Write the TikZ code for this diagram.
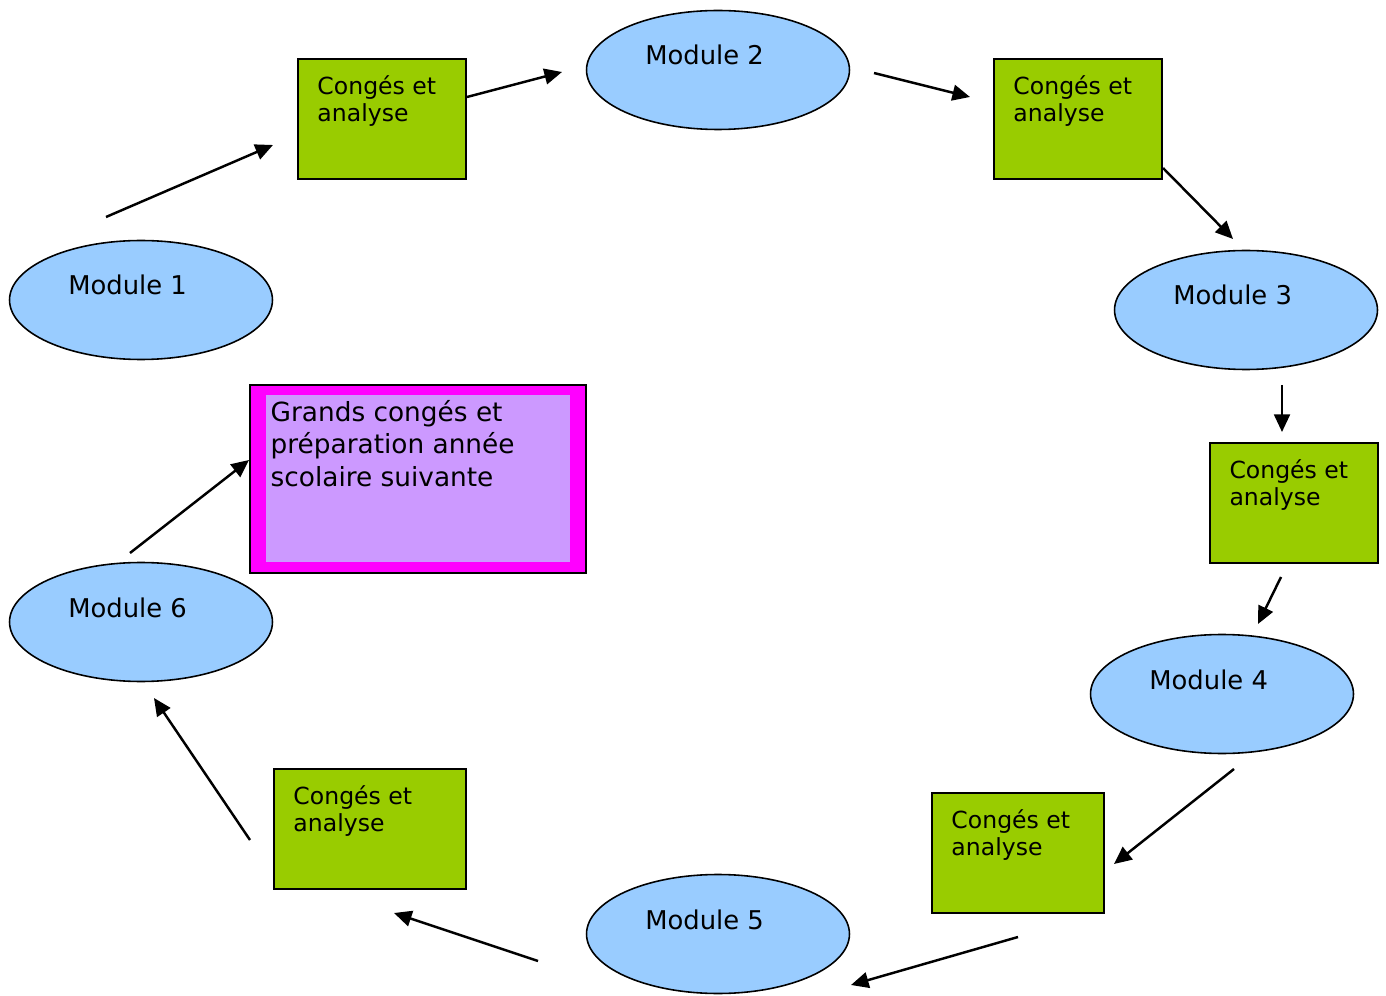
\documentclass[tikz,border=0pt]{standalone}
\usepackage{fontspec}
\setmainfont{DejaVu Sans}
\usetikzlibrary{arrows.meta,positioning,shapes.geometric}
\definecolor{modblue}{HTML}{99CCFF}
\definecolor{breakgreen}{HTML}{99CC00}
\definecolor{holpink}{HTML}{FF00FF}
\definecolor{holviolet}{HTML}{CC99FF}

\begin{document}
\begin{tikzpicture}[x=0.02cm, y=-0.02cm,
    module/.style={ellipse, draw, line width=0.9pt, fill=modblue,
      minimum width=5.26cm, minimum height=2.38cm, inner sep=0pt},
    modtext/.style={anchor=base west, inner sep=0pt,
      font=\fontsize{14.7}{17}\selectfont},
    breakbox/.style={rectangle, draw, line width=1pt, fill=breakgreen,
      minimum width=3.36cm, minimum height=2.4cm, inner sep=0pt},
    breaktext/.style={anchor=north west, inner sep=0pt, align=left,
      font=\fontsize{13.4}{15.7}\selectfont},
    holiday/.style={rectangle, draw=black, line width=0.8pt, fill=holpink,
      minimum width=6.72cm, minimum height=3.76cm, inner sep=0pt,
      path picture={\fill[holviolet]
        ([xshift=0.32cm,yshift=-0.2cm]path picture bounding box.north west) rectangle
        ([xshift=-0.32cm,yshift=0.22cm]path picture bounding box.south east);}},
    holtext/.style={anchor=north west, inner sep=0pt, align=left,
      font=\fontsize{15}{18.5}\selectfont}]
  \useasboundingbox (0,0) rectangle (1386,996);

  % modules
  \node (m1) [module] at (141,300) {};
  \node (m2) [module] at (718,70) {};
  \node (m3) [module] at (1246,310) {};
  \node (m4) [module] at (1222,694) {};
  \node (m5) [module] at (718,934) {};
  \node (m6) [module] at (141,622) {};
  \node (m1t) [modtext] at ([xshift=-1.46cm,yshift=0.1cm]m1.center) {Module 1};
  \node (m2t) [modtext] at ([xshift=-1.46cm,yshift=0.1cm]m2.center) {Module 2};
  \node (m3t) [modtext] at ([xshift=-1.46cm,yshift=0.1cm]m3.center) {Module 3};
  \node (m4t) [modtext] at ([xshift=-1.46cm,yshift=0.1cm]m4.center) {Module 4};
  \node (m5t) [modtext] at ([xshift=-1.46cm,yshift=0.1cm]m5.center) {Module 5};
  \node (m6t) [modtext] at ([xshift=-1.46cm,yshift=0.1cm]m6.center) {Module 6};

  % breaks
  \node (g1) [breakbox] at (382,119) {};
  \node (g2) [breakbox] at (1078,119) {};
  \node (g3) [breakbox] at (1294,503) {};
  \node (g4) [breakbox, minimum width=3.44cm] at (1018,853) {};
  \node (g5) [breakbox, minimum width=3.84cm] at (370,829) {};
  \foreach \g in {g1,g2,g3,g4,g5}
    \node (\g t) [breaktext, below right=0.34cm and 0.4cm of \g.north west]
      {Congés et\\analyse};

  % summer
  \node (big) [holiday] at (418,479) {};
  \node (bigt) [holtext, below right=0.31cm and 0.42cm of big.north west]
    {Grands congés et\\préparation année\\scolaire suivante};

  \coordinate (m1out) at (106,217);   \coordinate (g1in) at (273,145);
  \coordinate (g1out) at (467,97);    \coordinate (m2in) at (562,72);
  \coordinate (m2out) at (874,73);    \coordinate (g2in) at (970,97);
  \coordinate (g2out) at (1163,168);  \coordinate (m3in) at (1233,239);
  \coordinate (m3out) at (1282,385);  \coordinate (g3in) at (1282,432);
  \coordinate (g3out) at (1281,577);  \coordinate (m4in) at (1258,624);
  \coordinate (m4out) at (1234,769);  \coordinate (g4in) at (1114,864);
  \coordinate (g4out) at (1018,937);  \coordinate (m5in) at (851,985);
  \coordinate (m5out) at (538,961);   \coordinate (g5in) at (394,913);
  \coordinate (g5out) at (250,840);   \coordinate (m6in) at (154,698);
  \coordinate (m6out) at (130,553);   \coordinate (bigin) at (249,460);

  \begin{scope}[every edge/.style={draw, line width=1.4pt,
      -{Triangle[length=10pt,width=9pt]}}]
    \path (m1out) edge (g1in);
    \path (g1out) edge (m2in);
    \path (m2out) edge (g2in);
    \path (g2out) edge (m3in);
    \path (m3out) edge (g3in);
    \path (g3out) edge (m4in);
    \path (m4out) edge (g4in);
    \path (g4out) edge (m5in);
    \path (m5out) edge (g5in);
    \path (g5out) edge (m6in);
    \path (m6out) edge (bigin);
  \end{scope}
\end{tikzpicture}
\end{document}
